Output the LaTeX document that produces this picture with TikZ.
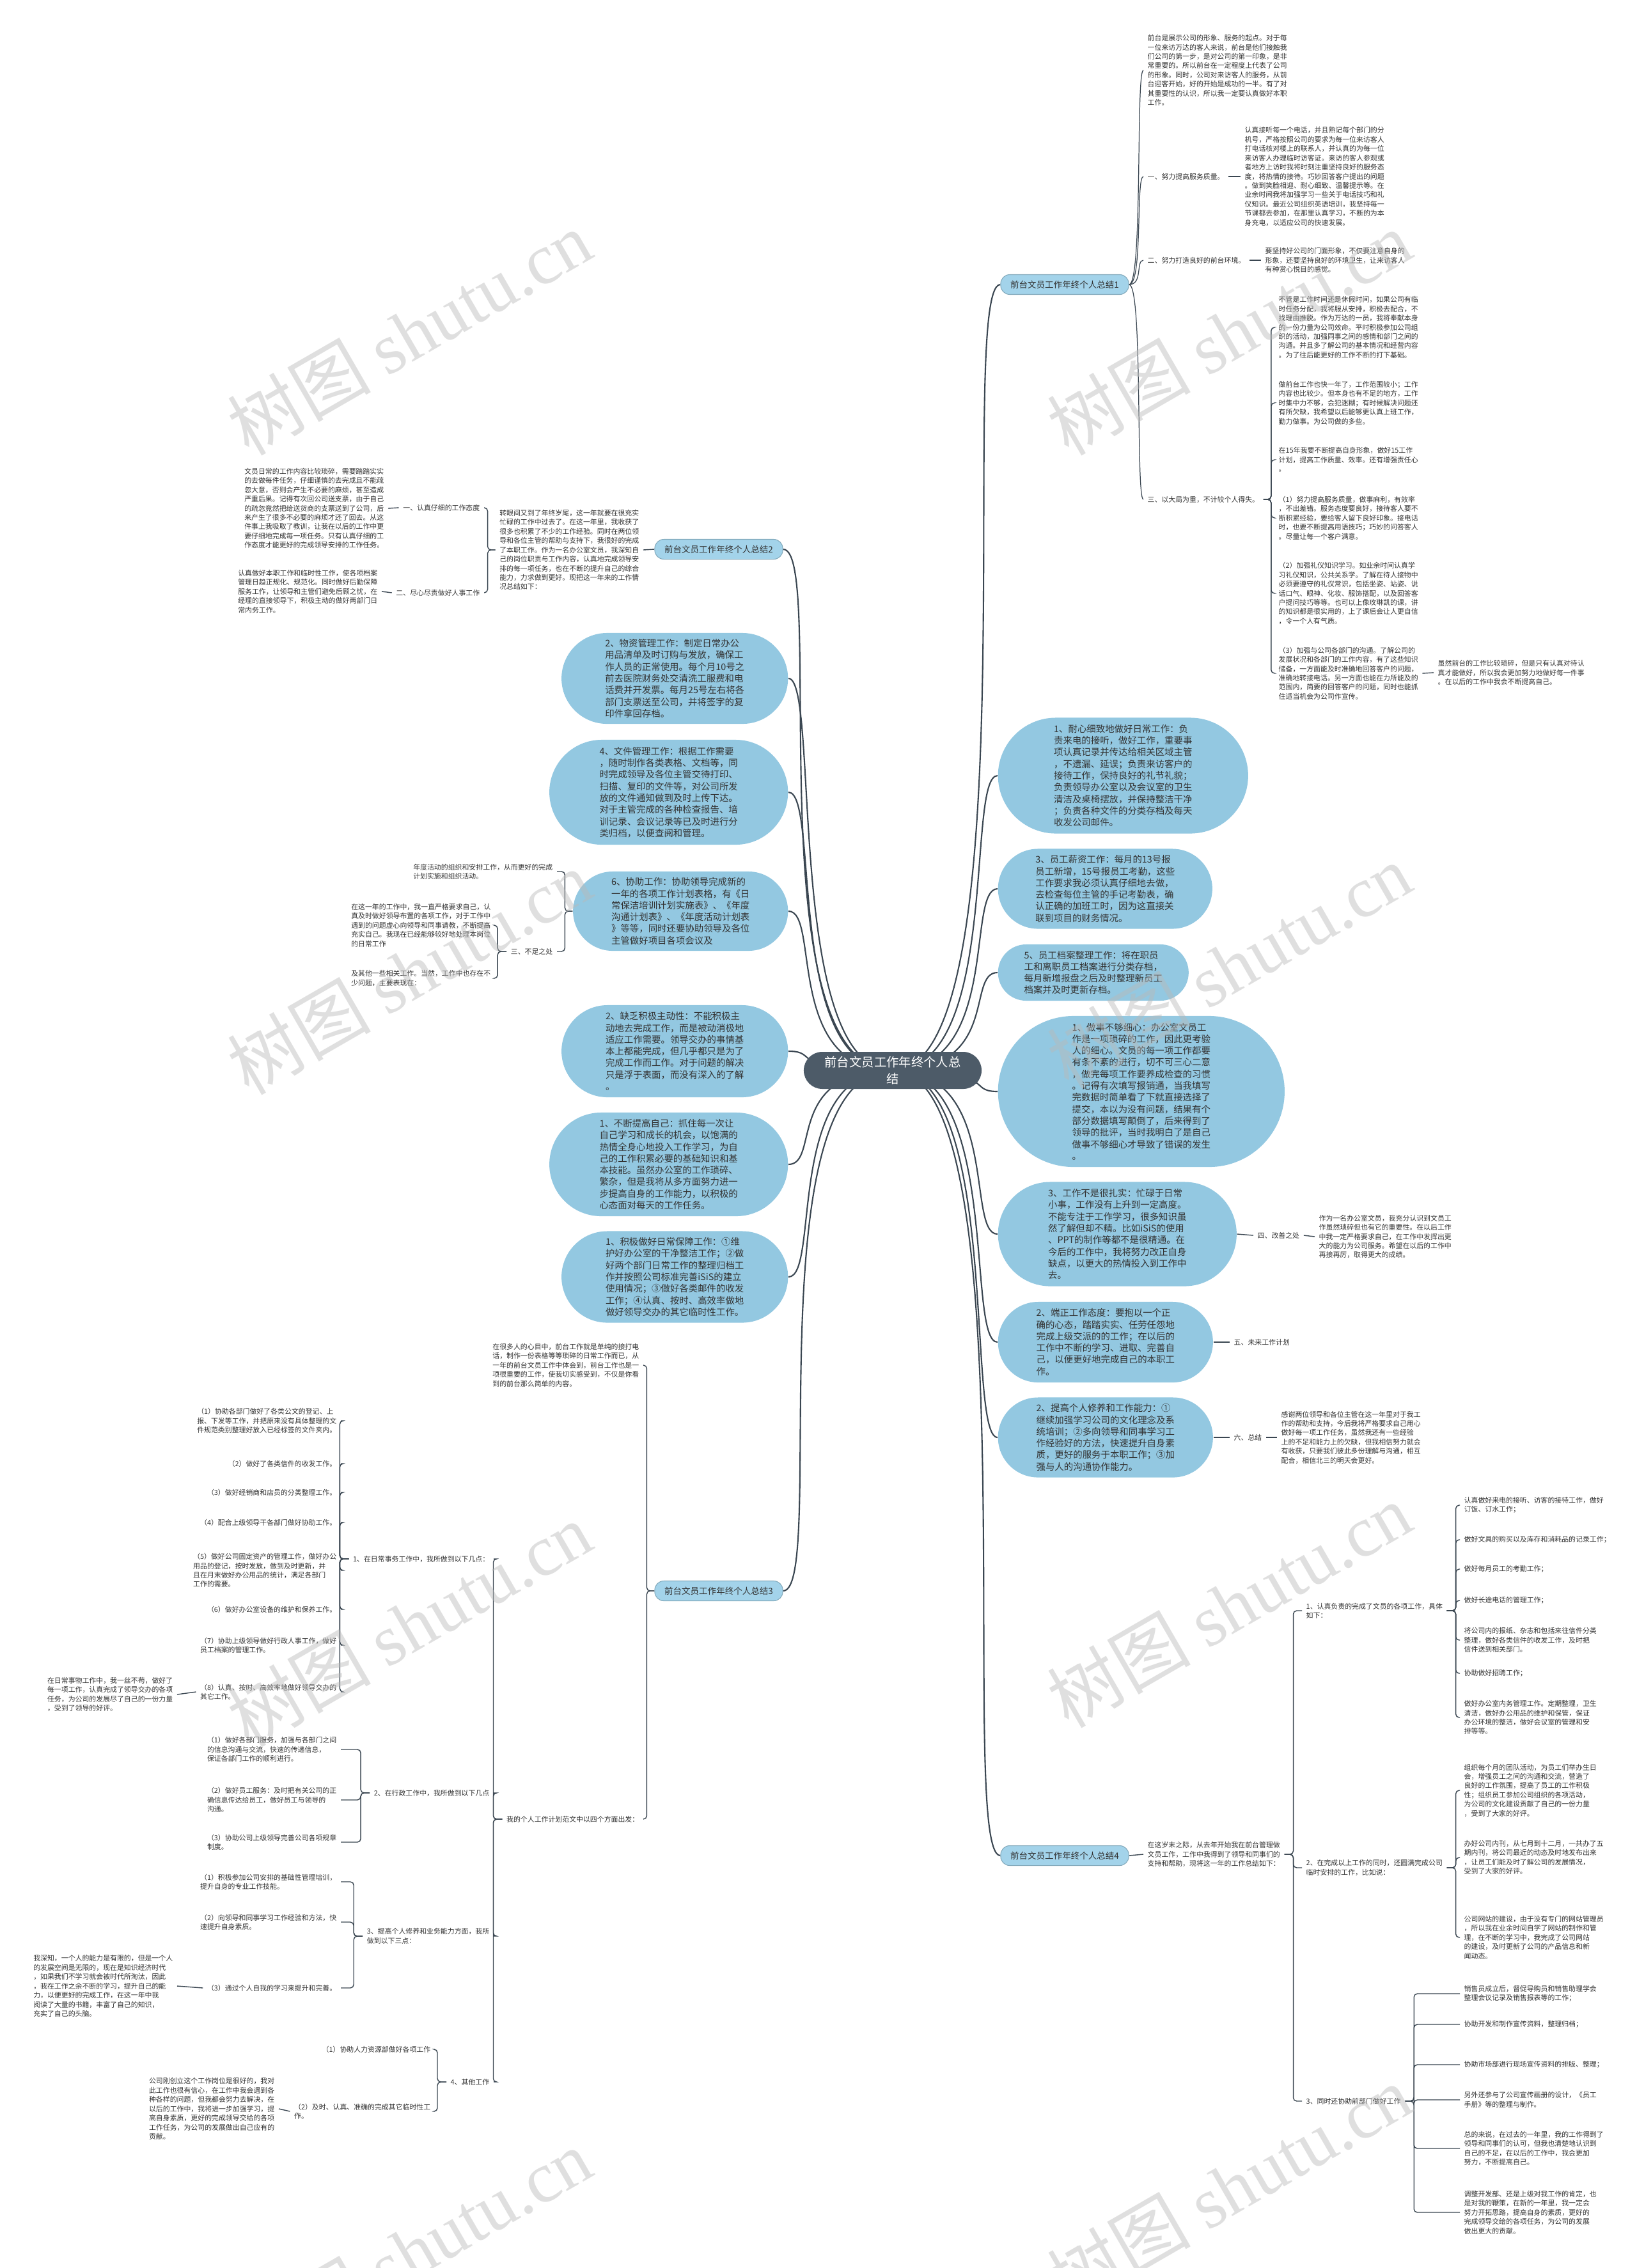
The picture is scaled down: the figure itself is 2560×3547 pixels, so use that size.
\documentclass[tikz,border=0pt]{standalone}
\usepackage{fontspec}
\setmainfont{Noto Sans CJK SC}
\newfontfamily\wmfont{Liberation Serif}
\XeTeXlinebreaklocale "zh"
\XeTeXlinebreakskip = 0pt plus 1pt
\usetikzlibrary{shapes.misc}
\definecolor{hubfill}{HTML}{4D5B68}
\definecolor{bubblefill}{HTML}{93C8E1}
\definecolor{tagfill}{HTML}{A3D3EA}
\definecolor{linkgray}{HTML}{3A4651}
\definecolor{inkgray}{HTML}{333333}
\begin{document}
\begin{tikzpicture}[
    x=0.01cm, y=-0.01cm,
    hub/.style={rounded rectangle, fill=hubfill, text=white, align=center,
                minimum width=2.85cm, minimum height=0.58cm, inner sep=1pt,
                font=\fontsize{5.5}{7.2}\selectfont},
    tag/.style={rectangle, rounded corners=4pt, fill=tagfill, draw=tagfill!80!black,
                line width=0.3pt, minimum width=2cm, minimum height=0.31cm,
                inner sep=1pt, text=inkgray, font=\fontsize{3.85}{4.6}\selectfont},
    bubble/.style={rounded rectangle, fill=bubblefill, align=left, inner sep=1pt,
                   text=inkgray, font=\fontsize{4.1}{5.2}\selectfont},
    para/.style={align=left, inner xsep=0.06cm, inner ysep=0pt, text=inkgray,
                 font=\fontsize{3.1}{4.1}\selectfont},
    item/.style={align=left, inner xsep=0.06cm, inner ysep=0pt, text=inkgray,
                 font=\fontsize{3.1}{4.1}\selectfont},
    mainlink/.style={linkgray, line width=0.6pt},
    sublink/.style={linkgray, line width=0.35pt},
    joinline/.style={linkgray, line width=0.4pt},
    brace/.style={linkgray, line width=0.4pt, rounded corners=1.5pt},
    wmark/.style={gray!55, opacity=0.45, rotate=30, inner sep=0pt,
                  font=\fontsize{32}{32}\selectfont},
]
\pgfdeclarelayer{bg}
\pgfsetlayers{bg,main}
\begin{pgfonlayer}{bg}
\fill[white] (0,0) rectangle (2560,3547);
\end{pgfonlayer}
\useasboundingbox (0,0) rectangle (2560,3547);

% Centre
\node[hub] (C) at (1396,1674) {前台文员工作年终个人总\\结};

% Branch tags
\node[tag] (B1) at (1665,445) {前台文员工作年终个人总结1};
\node[tag] (B2) at (1124,859) {前台文员工作年终个人总结2};
\node[tag] (B3) at (1124,2488) {前台文员工作年终个人总结3};
\node[tag] (B4) at (1665,2902) {前台文员工作年终个人总结4};

% Branch 1 (top right)
\node[para, anchor=west] (p11) at (1788,110) {前台是展示公司的形象、服务的起点。对于每\\一位来访万达的客人来说，前台是他们接触我\\们公司的第一步，是对公司的第一印象，是非\\常重要的。所以前台在一定程度上代表了公司\\的形象。同时，公司对来访客人的服务，从前\\台迎客开始，好的开始是成功的一半。有了对\\其重要性的认识，所以我一定要认真做好本职\\工作。};
\node[item, anchor=west] (n12) at (1788,276) {一、努力提高服务质量。};
\node[para, anchor=west] (p12) at (1940,276) {认真接听每一个电话，并且熟记每个部门的分\\机号，严格按照公司的要求为每一位来访客人\\打电话核对楼上的联系人，并认真的为每一位\\来访客人办理临时访客证。来访的客人参观或\\者地方上访时我将时刻注重坚持良好的服务态\\度，将热情的接待。巧妙回答客户提出的问题\\。做到笑脸相迎、耐心细致、温馨提示等。在\\业余时间我将加强学习一些关于电话技巧和礼\\仪知识。最近公司组织英语培训，我坚持每一\\节课都去参加，在那里认真学习，不断的为本\\身充电，以适应公司的快速发展。};
\node[item, anchor=west] (n13) at (1788,407) {二、努力打造良好的前台环境。};
\node[para, anchor=west] (p13) at (1972,407) {要坚持好公司的门面形象，不仅要注意自身的\\形象，还要坚持良好的环境卫生，让来访客人\\有种赏心悦目的感觉。};
\node[item, anchor=west] (n14) at (1788,781) {三、以大局为重，不计较个人得失。};
\node[para, anchor=west] (p141) at (1993,512) {不管是工作时间还是休假时间，如果公司有临\\时任务分配，我将服从安排，积极去配合，不\\找理由推脱。作为万达的一员，我将奉献本身\\的一份力量为公司效命。平时积极参加公司组\\织的活动，加强同事之间的感情和部门之间的\\沟通。并且多了解公司的基本情况和经营内容\\。为了往后能更好的工作不断的打下基础。};
\node[para, anchor=west] (p142) at (1993,630) {做前台工作也快一年了，工作范围较小；工作\\内容也比较少。但本身也有不足的地方，工作\\时集中力不够，会犯迷糊；有时候解决问题还\\有所欠缺，我希望以后能够更认真上班工作，\\勤力做事。为公司做的多些。};
\node[para, anchor=west] (p143) at (1993,719) {在15年我要不断提高自身形象，做好15工作\\计划，提高工作质量、效率。还有增强责任心\\。};
\node[para, anchor=west] (p144) at (1993,810) {（1）努力提高服务质量，做事麻利，有效率\\，不出差错。服务态度要良好，接待客人要不\\断积累经验，要给客人留下良好印象。接电话\\时，也要不断提高用语技巧；巧妙的问答客人\\。尽量让每一个客户满意。};
\node[para, anchor=west] (p145) at (1993,928) {（2）加强礼仪知识学习。如业余时间认真学\\习礼仪知识，公共关系学。了解在待人接物中\\必须要遵守的礼仪常识，包括坐姿、站姿、说\\话口气、眼神、化妆、服饰搭配，以及回答客\\户提问技巧等等。也可以上像玫琳凯的课，讲\\的知识都是很实用的，上了课后会让人更自信\\，令一个人有气质。};
\node[para, anchor=west] (p146) at (1993,1053) {（3）加强与公司各部门的沟通。了解公司的\\发展状况和各部门的工作内容，有了这些知识\\储备，一方面能及时准确地回答客户的问题，\\准确地转接电话。另一方面也能在力所能及的\\范围内，简要的回答客户的问题，同时也能抓\\住适当机会为公司作宣传。};
\node[para, anchor=west] (p147) at (2242,1052) {虽然前台的工作比较琐碎，但是只有认真对待认\\真才能做好，所以我会更加努力地做好每一件事\\。在以后的工作中我会不断提高自己。};

% Right bubbles
\node[bubble, anchor=west, minimum width=3.98cm, minimum height=1.81cm] (R1) at (1560,1213) {1、耐心细致地做好日常工作：负\\责来电的接听，做好工作，重要事\\项认真记录并传达给相关区域主管\\，不遗漏、延误；负责来访客户的\\接待工作，保持良好的礼节礼貌；\\负责领导办公室以及会议室的卫生\\清洁及桌椅摆放，并保持整洁干净\\；负责各种文件的分类存档及每天\\收发公司邮件。};
\node[bubble, anchor=west, minimum width=3.42cm, minimum height=1.25cm] (R2) at (1560,1390) {3、员工薪资工作：每月的13号报\\员工新增，15号报员工考勤，这些\\工作要求我必须认真仔细地去做，\\去检查每位主管的手记考勤表，确\\认正确的加班工时，因为这直接关\\联到项目的财务情况。};
\node[bubble, anchor=west, minimum width=3.05cm, minimum height=0.88cm] (R3) at (1560,1521) {5、员工档案整理工作：将在职员\\工和离职员工档案进行分类存档，\\每月新增报盘之后及时整理新员工\\档案并及时更新存档。};
\node[bubble, anchor=west, minimum width=4.55cm, minimum height=2.36cm] (R4) at (1560,1707) {1、做事不够细心：办公室文员工\\作是一项琐碎的工作，因此更考验\\人的细心。文员的每一项工作都要\\有条不紊的进行，切不可三心二意\\，做完每项工作要养成检查的习惯\\。记得有次填写报销通，当我填写\\完数据时简单看了下就直接选择了\\提交，本以为没有问题，结果有个\\部分数据填写颠倒了，后来得到了\\领导的批评，当时我明白了是自己\\做事不够细心才导致了错误的发生\\。};
\node[bubble, anchor=west, minimum width=3.8cm, minimum height=1.63cm] (R5) at (1560,1930) {3、工作不是很扎实：忙碌于日常\\小事，工作没有上升到一定高度。\\不能专注于工作学习，很多知识虽\\然了解但却不精。比如iSiS的使用\\、PPT的制作等都不是很精通。在\\今后的工作中，我将努力改正自身\\缺点，以更大的热情投入到工作中\\去。};
\node[bubble, anchor=west, minimum width=3.43cm, minimum height=1.26cm] (R6) at (1560,2099) {2、端正工作态度：要抱以一个正\\确的心态，踏踏实实、任劳任怨地\\完成上级交派的的工作；在以后的\\工作中不断的学习、进取、完善自\\己，以便更好地完成自己的本职工\\作。};
\node[bubble, anchor=west, minimum width=3.43cm, minimum height=1.25cm] (R7) at (1560,2248) {2、提高个人修养和工作能力：①\\继续加强学习公司的文化理念及系\\统培训；②多向领导和同事学习工\\作经验好的方法，快速提升自身素\\质，更好的服务于本职工作；③加\\强与人的沟通协作能力。};
\node[item, anchor=west] (n5) at (1960,1932) {四、改善之处};
\node[para, anchor=west] (p5) at (2056,1934) {作为一名办公室文员，我充分认识到文员工\\作虽然琐碎但也有它的重要性。在以后工作\\中我一定严格要求自己，在工作中发挥出更\\大的能力为公司服务。希望在以后的工作中\\再接再厉，取得更大的成绩。};
\node[item, anchor=west] (n6) at (1923,2099) {五、未来工作计划};
\node[item, anchor=west] (n7) at (1923,2248) {六、总结};
\node[para, anchor=west] (p7) at (1997,2248) {感谢两位领导和各位主管在这一年里对于我工\\作的帮助和支持，今后我将严格要求自己用心\\做好每一项工作任务，虽然我还有一些经验\\上的不足和能力上的欠缺，但我相信努力就会\\有收获，只要我们彼此多份理解与沟通，相互\\配合，相信北三的明天会更好。};

% Branch 2 (top left)
\node[para, anchor=east] (p21) at (1006,860) {转眼间又到了年终岁尾，这一年就要在很充实\\忙碌的工作中过去了。在这一年里，我收获了\\很多也积累了不少的工作经验。同时在两位领\\导和各位主管的帮助与支持下，我很好的完成\\了本职工作。作为一名办公室文员，我深知自\\己的岗位职责与工作内容，认真地完成领导安\\排的每一项任务，也在不断的提升自己的综合\\能力，力求做到更好。现把这一年来的工作情\\况总结如下：};
\node[item, anchor=east] (n21) at (757,794) {一、认真仔细的工作态度};
\node[para, anchor=east] (p211) at (607,795) {文员日常的工作内容比较琐碎，需要踏踏实实\\的去做每件任务，仔细谨慎的去完成且不能疏\\忽大意，否则会产生不必要的麻烦，甚至造成\\严重后果。记得有次回公司送支票，由于自己\\的疏忽竟然把给送货商的支票送到了公司，后\\来产生了很多不必要的麻烦才还了回去。从这\\件事上我吸取了教训，让我在以后的工作中更\\要仔细地完成每一项任务。只有认真仔细的工\\作态度才能更好的完成领导安排的工作任务。};
\node[item, anchor=east] (n22) at (757,927) {二、尽心尽责做好人事工作};
\node[para, anchor=east] (p221) at (597,925) {认真做好本职工作和临时性工作，使各项档案\\管理日趋正规化、规范化。同时做好后勤保障\\服务工作，让领导和主管们避免后顾之忧，在\\经理的直接领导下，积极主动的做好两部门日\\常内务工作。};

% Left bubbles
\node[bubble, anchor=east, minimum width=3.61cm, minimum height=1.42cm] (L1) at (1233,1061) {2、物资管理工作：制定日常办公\\用品清单及时订购与发放，确保工\\作人员的正常使用。每个月10号之\\前去医院财务处交清洗工服费和电\\话费并开发票。每月25号左右将各\\部门支票送至公司，并将签字的复\\印件拿回存档。};
\node[bubble, anchor=east, minimum width=3.8cm, minimum height=1.64cm] (L2) at (1233,1239) {4、文件管理工作：根据工作需要\\，随时制作各类表格、文档等，同\\时完成领导及各位主管交待打印、\\扫描、复印的文件等，对公司所发\\放的文件通知做到及时上传下达。\\对于主管完成的各种检查报告、培\\训记录、会议记录等已及时进行分\\类归档，以便查阅和管理。};
\node[bubble, anchor=east, minimum width=3.43cm, minimum height=1.24cm] (L3) at (1233,1425) {6、协助工作：协助领导完成新的\\一年的各项工作计划表格，有《日\\常保洁培训计划实施表》、《年度\\沟通计划表》、《年度活动计划表\\》等等，同时还要协助领导及各位\\主管做好项目各项会议及};
\node[bubble, anchor=east, minimum width=3.61cm, minimum height=1.44cm] (L4) at (1233,1644) {2、缺乏积极主动性：不能积极主\\动地去完成工作，而是被动消极地\\适应工作需要。领导交办的事情基\\本上都能完成，但几乎都只是为了\\完成工作而工作。对于问题的解决\\只是浮于表面，而没有深入的了解\\。};
\node[bubble, anchor=east, minimum width=3.8cm, minimum height=1.62cm] (L5) at (1233,1821) {1、不断提高自己：抓住每一次让\\自己学习和成长的机会，以饱满的\\热情全身心地投入工作学习，为自\\己的工作积累必要的基础知识和基\\本技能。虽然办公室的工作琐碎、\\繁杂，但是我将从多方面努力进一\\步提高自身的工作能力，以积极的\\心态面对每天的工作任务。};
\node[bubble, anchor=east, minimum width=3.61cm, minimum height=1.43cm] (L6) at (1233,1997) {1、积极做好日常保障工作：①维\\护好办公室的干净整洁工作；②做\\好两个部门日常工作的整理归档工\\作并按照公司标准完善iSiS的建立\\使用情况；③做好各类邮件的收发\\工作；④认真、按时、高效率做地\\做好领导交办的其它临时性工作。};
\node[para, anchor=east] (q31) at (871,1363) {年度活动的组织和安排工作，从而更好的完成\\计划实施和组织活动。};
\node[item, anchor=east] (q32) at (871,1488) {三、不足之处};
\node[para, anchor=east] (q321) at (774,1447) {在这一年的工作中，我一直严格要求自己，认\\真及时做好领导布置的各项工作，对于工作中\\遇到的问题虚心向领导和同事请教，不断提高\\充实自己。我现在已经能够较好地处理本岗位\\的日常工作};
\node[para, anchor=east] (q322) at (774,1530) {及其他一些相关工作。当然，工作中也存在不\\少问题，主要表现在：};

% Branch 3 (bottom left)
\node[para, anchor=east] (p31) at (1006,2135) {在很多人的心目中，前台工作就是单纯的接打电\\话，制作一份表格等等琐碎的日常工作而已，从\\一年的前台文员工作中体会到，前台工作也是一\\项很重要的工作，使我切实感受到，不仅是你看\\到的前台那么简单的内容。};
\node[para, anchor=east] (p32) at (1006,2845) {我的个人工作计划范文中以四个方面出发：};
\node[item, anchor=east] (n31) at (772,2438) {1、在日常事务工作中，我所做到以下几点：};
\node[item, anchor=east] (n32) at (772,2804) {2、在行政工作中，我所做到以下几点};
\node[item, anchor=east] (n33) at (772,3028) {3、提高个人修养和业务能力方面，我所\\做到以下三点：};
\node[item, anchor=east] (n34) at (772,3256) {4、其他工作};
\node[para, anchor=east] (i311) at (533,2222) {（1）协助各部门做好了各类公文的登记、上\\报、下发等工作，并把原来没有具体整理的文\\件规范类别整理好放入已经标签的文件夹内。};
\node[para, anchor=east] (i312) at (533,2289) {（2）做好了各类信件的收发工作。};
\node[para, anchor=east] (i313) at (533,2334) {（3）做好经销商和店员的分类整理工作。};
\node[para, anchor=east] (i314) at (533,2381) {（4）配合上级领导干各部门做好协助工作。};
\node[para, anchor=east] (i315) at (533,2456) {（5）做好公司固定资产的管理工作，做好办公\\用品的登记，按时发放，做到及时更新，并\\且在月末做好办公用品的统计，满足各部门\\工作的需要。};
\node[para, anchor=east] (i316) at (533,2517) {（6）做好办公室设备的维护和保养工作。};
\node[para, anchor=east] (i317) at (533,2573) {（7）协助上级领导做好行政人事工作，做好\\员工档案的管理工作。};
\node[para, anchor=east] (i318) at (533,2646) {（8）认真、按时、高效率地做好领导交办的\\其它工作。};
\node[para, anchor=east] (i3181) at (277,2650) {在日常事物工作中，我一丝不苟，做好了\\每一项工作，认真完成了领导交办的各项\\任务，为公司的发展尽了自己的一份力量\\，受到了领导的好评。};
\node[para, anchor=east] (i321) at (533,2736) {（1）做好各部门服务，加强与各部门之间\\的信息沟通与交流，快速的传递信息，\\保证各部门工作的顺利进行。};
\node[para, anchor=east] (i322) at (533,2815) {（2）做好员工服务：及时把有关公司的正\\确信息传达给员工，做好员工与领导的\\沟通。};
\node[para, anchor=east] (i323) at (533,2881) {（3）协助公司上级领导完善公司各项规章\\制度。};
\node[para, anchor=east] (i331) at (533,2943) {（1）积极参加公司安排的基础性管理培训，\\提升自身的专业工作技能。};
\node[para, anchor=east] (i332) at (533,3006) {（2）向领导和同事学习工作经验和方法，快\\速提升自身素质。};
\node[para, anchor=east] (i333) at (533,3109) {（3）通过个人自我的学习来提升和完善。};
\node[para, anchor=east] (i3331) at (277,3106) {我深知，一个人的能力是有限的，但是一个人\\的发展空间是无限的，现在是知识经济时代\\，如果我们不学习就会被时代所淘汰，因此\\，我在工作之余不断的学习，提升自己的能\\力，以便更好的完成工作，在这一年中我\\阅读了大量的书籍，丰富了自己的知识，\\充实了自己的头脑。};
\node[para, anchor=east] (i341) at (680,3205) {（1）协助人力资源部做好各项工作};
\node[para, anchor=east] (i342) at (680,3302) {（2）及时、认真、准确的完成其它临时性工\\作。};
\node[para, anchor=east] (i3421) at (436,3298) {公司刚创立这个工作岗位是很好的，我对\\此工作也很有信心，在工作中我会遇到各\\种各样的问题，但我都会努力去解决，在\\以后的工作中，我将进一步加强学习，提\\高自身素质，更好的完成领导交给的各项\\工作任务，为公司的发展做出自己应有的\\贡献。};

% Branch 4 (bottom right)
\node[para, anchor=west] (p41) at (1788,2900) {在这岁末之际，从去年开始我在前台管理做\\文员工作，工作中我得到了领导和同事们的\\支持和帮助，现将这一年的工作总结如下：};
\node[item, anchor=west] (n41) at (2036,2519) {1、认真负责的完成了文员的各项工作，具体\\如下：};
\node[item, anchor=west] (n42) at (2036,2921) {2、在完成以上工作的同时，还圆满完成公司\\临时安排的工作，比如说：};
\node[item, anchor=west] (n43) at (2036,3286) {3、同时还协助前部门做好工作};
\node[para, anchor=west] (j411) at (2283,2354) {认真做好来电的接听、访客的接待工作，做好\\订饭、订水工作；};
\node[para, anchor=west] (j412) at (2283,2408) {做好文具的购买以及库存和消耗品的记录工作；};
\node[para, anchor=west] (j413) at (2283,2454) {做好每月员工的考勤工作；};
\node[para, anchor=west] (j414) at (2283,2503) {做好长途电话的管理工作；};
\node[para, anchor=west] (j415) at (2283,2565) {将公司内的报纸、杂志和包括来往信件分类\\整理，做好各类信件的收发工作，及时把\\信件送到相关部门。};
\node[para, anchor=west] (j416) at (2283,2617) {协助做好招聘工作；};
\node[para, anchor=west] (j417) at (2283,2686) {做好办公室内务管理工作。定期整理，卫生\\清洁，做好办公用品的维护和保管，保证\\办公环境的整洁，做好会议室的管理和安\\排等等。};
\node[para, anchor=west] (j421) at (2283,2800) {组织每个月的团队活动，为员工们举办生日\\会，增强员工之间的沟通和交流，营造了\\良好的工作氛围，提高了员工的工作积极\\性；组织员工参加公司组织的各项活动，\\为公司的文化建设贡献了自己的一份力量\\，受到了大家的好评。};
\node[para, anchor=west] (j422) at (2283,2905) {办好公司内刊，从七月到十二月，一共办了五\\期内刊，将公司最近的动态及时地发布出来\\，让员工们能及时了解公司的发展情况，\\受到了大家的好评。};
\node[para, anchor=west] (j423) at (2283,3030) {公司网站的建设，由于没有专门的网站管理员\\，所以我在业余时间自学了网站的制作和管\\理，在不断的学习中，我完成了公司网站\\的建设，及时更新了公司的产品信息和新\\闻动态。};
\node[para, anchor=west] (j431) at (2283,3118) {销售员成立后，督促导购员和销售助理学会\\整理会议记录及销售报表等的工作；};
\node[para, anchor=west] (j432) at (2283,3166) {协助开发和制作宣传资料，整理归档；};
\node[para, anchor=west] (j433) at (2283,3229) {协助市场部进行现场宣传资料的排版、整理；};
\node[para, anchor=west] (j434) at (2283,3284) {另外还参与了公司宣传画册的设计，《员工\\手册》等的整理与制作。};
\node[para, anchor=west] (j435) at (2283,3360) {总的来说，在过去的一年里，我的工作得到了\\领导和同事们的认可，但我也清楚地认识到\\自己的不足，在以后的工作中，我会更加\\努力，不断提高自己。};
\node[para, anchor=west] (j436) at (2283,3460) {调整开发部、还是上级对我工作的肯定，也\\是对我的鞭策，在新的一年里，我一定会\\努力开拓思路，提高自身的素质，更好的\\完成领导交给的各项任务，为公司的发展\\做出更大的贡献。};

\begin{pgfonlayer}{bg}
% Centre to tags and bubbles
\draw[mainlink] (C.center) .. controls +(220,0) and +(-70,0) .. (B1.west);
\draw[mainlink] (C.center) .. controls +(-220,0) and +(70,0) .. (B2.east);
\draw[mainlink] (C.center) .. controls +(-220,0) and +(70,0) .. (B3.east);
\draw[mainlink] (C.center) .. controls +(220,0) and +(-70,0) .. (B4.west);
\foreach \b in {R1,R2,R3,R4,R5,R6,R7}
  \draw[mainlink] (C.center) .. controls +(170,0) and +(-50,0) .. (\b.west);
\foreach \b in {L1,L2,L3,L4,L5,L6}
  \draw[mainlink] (C.center) .. controls +(-170,0) and +(50,0) .. (\b.east);

% Branch 1 links
\foreach \c in {p11,n12,n13,n14}
  \draw[sublink] (B1.east) .. controls +(22,0) and +(-12,0) .. (\c.west);
\draw[joinline] (n12.east) -- (p12.west);
\draw[joinline] (n13.east) -- (p13.west);
\foreach \c in {p141,p142,p143,p144,p145,p146}
  \draw[brace] (n14.east) -- ++(12,0) |- (\c.west);
\draw[joinline] (p146.east) -- (p147.west);

% Bubble side labels
\draw[joinline] (R5.east) -- (n5.west);
\draw[joinline] (n5.east) -- (p5.west);
\draw[joinline] (R6.east) -- (n6.west);
\draw[joinline] (R7.east) -- (n7.west);
\draw[joinline] (n7.east) -- (p7.west);
\foreach \c in {q31,q32}
  \draw[brace] (L3.west) -- ++(-12,0) |- (\c.east);
\foreach \c in {q321,q322}
  \draw[brace] (q32.west) -- ++(-14,0) |- (\c.east);

% Branch 2 links
\draw[joinline] (B2.west) -- (p21.east);
\foreach \c in {n21,n22}
  \draw[brace] (p21.west) -- ++(-12,0) |- (\c.east);
\draw[joinline] (n21.west) -- (p211.east);
\draw[joinline] (n22.west) -- (p221.east);

% Branch 3 links
\foreach \c in {p31,p32}
  \draw[brace] (B3.west) -- ++(-12,0) |- (\c.east);
\foreach \c in {n31,n32,n33,n34}
  \draw[brace] (p32.west) -- ++(-14,0) |- (\c.east);
\foreach \c in {i311,i312,i313,i314,i315,i316,i317,i318}
  \draw[brace] (n31.west) -- ++(-14,0) |- (\c.east);
\foreach \c in {i321,i322,i323}
  \draw[brace] (n32.west) -- ++(-14,0) |- (\c.east);
\foreach \c in {i331,i332,i333}
  \draw[brace] (n33.west) -- ++(-14,0) |- (\c.east);
\foreach \c in {i341,i342}
  \draw[brace] (n34.west) -- ++(-14,0) |- (\c.east);
\draw[joinline] (i318.west) -- (i3181.east);
\draw[joinline] (i333.west) -- (i3331.east);
\draw[joinline] (i342.west) -- (i3421.east);

% Branch 4 links
\draw[joinline] (B4.east) -- (p41.west);
\foreach \c in {n41,n42,n43}
  \draw[brace] (p41.east) -- ++(14,0) |- (\c.west);
\foreach \c in {j411,j412,j413,j414,j415,j416,j417}
  \draw[brace] (n41.east) -- ++(14,0) |- (\c.west);
\foreach \c in {j421,j422,j423}
  \draw[brace] (n42.east) -- ++(14,0) |- (\c.west);
\foreach \c in {j431,j432,j433,j434,j435,j436}
  \draw[brace] (n43.east) -- ++(14,0) |- (\c.west);
\end{pgfonlayer}

% Watermarks
\node[wmark] (wm1) at (640,520) {树图 {\wmfont shutu.cn}};
\node[wmark] (wm2) at (1922,520) {树图 {\wmfont shutu.cn}};
\node[wmark] (wm3) at (640,1520) {树图 {\wmfont shutu.cn}};
\node[wmark] (wm4) at (1922,1510) {树图 {\wmfont shutu.cn}};
\node[wmark] (wm5) at (640,2540) {树图 {\wmfont shutu.cn}};
\node[wmark] (wm6) at (1922,2510) {树图 {\wmfont shutu.cn}};
\node[wmark] (wm7) at (640,3520) {树图 {\wmfont shutu.cn}};
\node[wmark] (wm8) at (1922,3420) {树图 {\wmfont shutu.cn}};
\end{tikzpicture}
\end{document}
